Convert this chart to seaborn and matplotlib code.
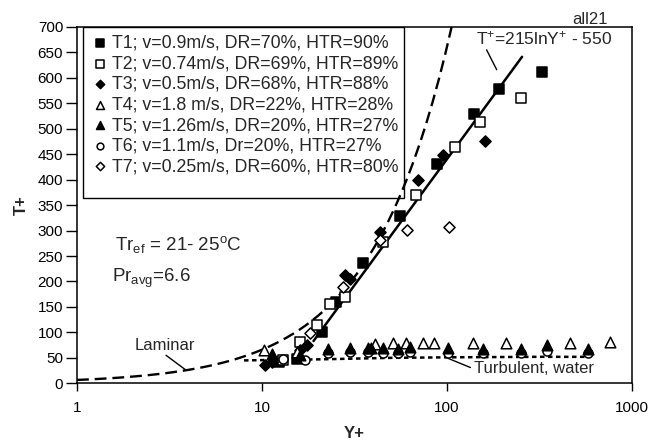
import numpy as np
import matplotlib
matplotlib.use("Agg")
import matplotlib.pyplot as plt
from matplotlib.patches import Rectangle
from matplotlib.ticker import NullLocator
import seaborn as sns

# values (Y+, T+)
t1_y = [12.3, 15.5, 21, 25, 35, 56, 88, 141, 192, 325]
t1_t = [42, 47, 101, 160, 236, 329, 431, 529, 578, 612]
t2_y = [13, 16, 19.8, 23.3, 28, 45.3, 68.5, 110, 151, 253]
t2_t = [46, 82, 115, 156, 170, 278, 370, 465, 514, 560]
t3_y = [10.4, 11.3, 16, 17.5, 28, 30, 43.4, 70, 95.5, 160]
t3_t = [36, 42, 65, 75, 213, 205, 298, 400, 449, 475]
t4_y = [10.2, 15.4, 40.8, 51.3, 60.3, 74.4, 85.7, 138, 210, 464, 765]
t4_t = [65, 62, 78, 80, 80, 80, 80, 80, 80, 80, 82]
t5_y = [11.4, 16, 22.8, 30, 37.6, 39, 45, 54.4, 63, 101, 157, 253, 346, 580]
t5_t = [58, 55, 68, 70, 70, 70, 70, 68, 72, 70, 68, 68, 75, 68]
t6_y = [13, 17, 22.8, 30, 37.6, 45, 54.4, 63, 101, 157, 253, 346, 580]
t6_t = [48, 45, 60, 62, 62, 60, 60, 62, 60, 60, 60, 64, 60]
t7_y = [18.2, 27.5, 43.4, 61, 103]
t7_t = [98, 189, 282, 301, 308]

labels = [
    "T1; v=0.9m/s, DR=70%, HTR=90%",
    "T2; v=0.74m/s, DR=69%, HTR=89%",
    "T3; v=0.5m/s, DR=68%, HTR=88%",
    "T4; v=1.8 m/s, DR=22%, HTR=28%",
    "T5; v=1.26m/s, DR=20%, HTR=27%",
    "T6; v=1.1m/s, Dr=20%, HTR=27%",
    "T7; v=0.25m/s, DR=60%, HTR=80%",
]

turb_y = [8, 20, 50, 100, 300, 600]
turb_t = [45, 47, 50, 51, 52, 52]

# model lines given on the chart
pr_avg = 6.6          # laminar: T+ = Pr * Y+
fit_a, fit_b = 215, 550   # T+ = 215 ln Y+ - 550
fit_range = (19, 255)

sns.set_style("ticks")
plt.rcParams["font.family"] = ["Liberation Sans", "DejaVu Sans"]
plt.rcParams["mathtext.default"] = "regular"

fig = plt.figure(figsize=(6.5, 4.42), dpi=100)
ax = fig.add_axes([0.1185, 0.1328, 0.8535, 0.8062])

# lines
lam_x = np.geomspace(1, 700 / pr_avg, 60)
sns.lineplot(x=lam_x, y=pr_avg * lam_x, ax=ax, color="black", linewidth=1.7,
             linestyle=(0, (5, 2.5)), estimator=None, sort=False, zorder=2)
fit_x = np.geomspace(fit_range[0], fit_range[1], 40)
sns.lineplot(x=fit_x, y=fit_a * np.log(fit_x) - fit_b, ax=ax, color="black",
             linewidth=1.8, estimator=None, sort=False, zorder=2)
sns.lineplot(x=turb_y, y=turb_t, ax=ax, color="black", linewidth=1.8,
             linestyle=(0, (1.8, 1.4)), estimator=None, sort=False, zorder=2)

# data points
series = [
    (t1_y, t1_t, "s", "black", 55, 3),
    (t2_y, t2_t, "s", "white", 55, 3),
    (t3_y, t3_t, "D", "black", 32, 3),
    (t4_y, t4_t, "^", "white", 58, 3),
    (t5_y, t5_t, "^", "black", 58, 5),
    (t6_y, t6_t, "o", "white", 42, 4),
    (t7_y, t7_t, "D", "white", 32, 3),
]
for (xs, ys, mk, fc, size, z), lab in zip(series, labels):
    sns.scatterplot(x=xs, y=ys, ax=ax, marker=mk, s=size, facecolor=fc,
                    edgecolor="black", linewidth=1.1, label=lab, zorder=z)

ax.set_xscale("log")
ax.set_xlim(1, 1000)
ax.set_ylim(0, 700)
ax.set_xticks([1, 10, 100, 1000])
ax.set_xticklabels(["1", "10", "100", "1000"])
ax.xaxis.set_minor_locator(NullLocator())
ax.set_yticks(np.arange(0, 701, 50))
ax.tick_params(axis="x", direction="out", length=6, width=1, pad=7,
               labelsize=11, colors="black")
ax.tick_params(axis="y", direction="out", length=8, width=1, pad=2,
               labelsize=11, colors="black")
for sp in ax.spines.values():
    sp.set_color("black")
    sp.set_linewidth(1.1)
ax.set_xlabel("Y+", fontsize=12, fontweight="bold", labelpad=8)
ax.set_ylabel("T+", fontsize=12, fontweight="bold", labelpad=6)

# legend with an Excel-like box
leg = ax.legend(loc="upper left", bbox_to_anchor=(0.03, 0.978), frameon=False,
                fontsize=12.8, handlelength=0.75, handletextpad=0.3,
                labelspacing=0.2, borderpad=0, markerscale=0.75,
                borderaxespad=0)
ax.add_patch(Rectangle((0.011, 0.52), 0.578, 0.48, transform=ax.transAxes,
                       fill=False, edgecolor="black", linewidth=1.0,
                       zorder=6))

# text and annotations
ax.text(1.6, 272, r"Tr$_{ef}$ = 21- 25$^{o}$C", fontsize=13.5, va="center")
ax.text(1.55, 207, r"Pr$_{avg}$=6.6", fontsize=13.5, va="center")
ax.text(3.0, 75, "Laminar", fontsize=12, ha="center", va="center")
ax.plot([3.03, 3.88], [55, 26], color="black", linewidth=1)
ax.text(140, 29, "Turbulent, water", fontsize=12, ha="left", va="center")
ax.plot([101.6, 134], [49, 31], color="black", linewidth=1)
ax.text(336, 677, r"T$^{+}$=215lnY$^{+}$ - 550", fontsize=12.5, ha="center",
        va="center")
ax.plot([164, 186], [655, 616], color="black", linewidth=1)
ax.text(0.924, 1.02, "all21", transform=ax.transAxes, fontsize=12,
        ha="center", va="center")

fig.savefig("out.png", dpi=100)
